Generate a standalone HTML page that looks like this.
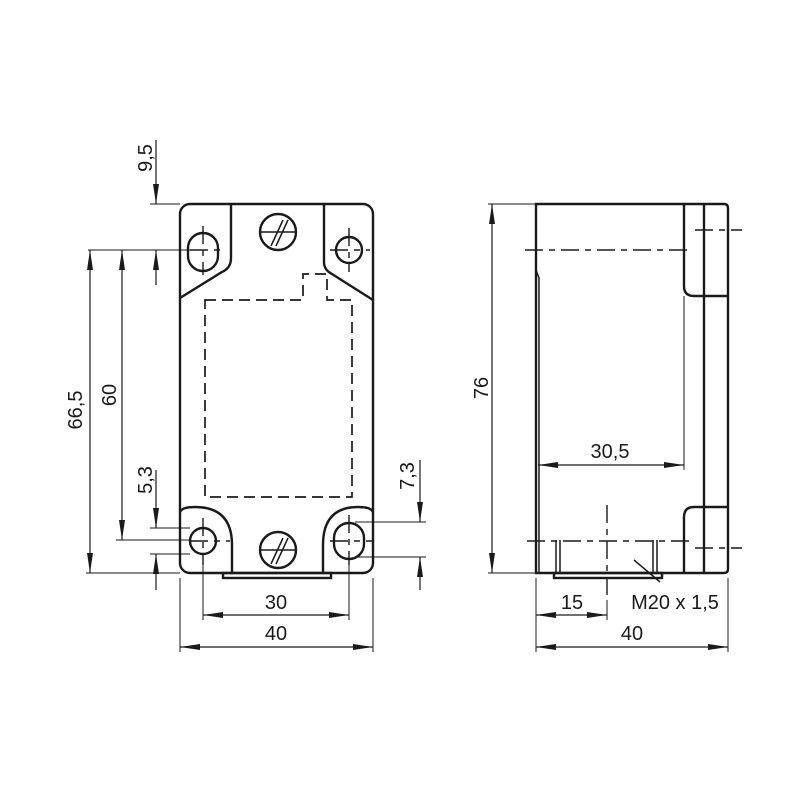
<!DOCTYPE html>
<html><head><meta charset="utf-8"><style>body{margin:0;background:#fff}</style></head><body>
<svg width="800" height="800" viewBox="0 0 800 800" xmlns="http://www.w3.org/2000/svg" font-family="Liberation Sans, DejaVu Sans, sans-serif" font-size="20" fill="none" stroke="#1a1a1a">
<defs>
<marker id="a" viewBox="0 0 20 6" refX="20" refY="3" markerWidth="20" markerHeight="6" markerUnits="userSpaceOnUse" orient="auto-start-reverse"><path d="M0,0 L20,3 L0,6z" fill="#1a1a1a" stroke="none"/></marker>
</defs>
<g stroke-width="2.4">
<rect x="180" y="204" width="193" height="369" rx="10"/>
<path d="M231,204 V258 Q231,268 222,272 L180,298"/>
<path d="M324,204 V262 Q324,270 332,274 L373,300"/>
<path d="M180,512 Q182,507 195,507 Q232,507 232,545 V573"/>
<path d="M373,512 Q371,507 358,507 Q323,507 323,545 V573"/>
<rect x="188" y="233" width="30" height="38" rx="15"/>
<circle cx="349" cy="250" r="13"/>
<circle cx="278" cy="232" r="18"/>
<circle cx="278" cy="550" r="18"/>
<circle cx="203" cy="541" r="13"/>
<rect x="334" y="523" width="30" height="36" rx="15"/>
<rect x="223" y="573" width="108" height="5"/>
<path d="M536,204 H724 Q728,204 728,208 V569 Q728,573 724,573 H536 Z"/>
<path d="M684,204 V286 Q684,296 694,296 H728"/>
<path d="M704,204 V573"/>
<path d="M728,507 H694 Q684,507 684,517 V573"/>
<rect x="554" y="573" width="108" height="5"/>
</g>
<g stroke-width="1.5">
<path d="M271,246 L283,220 M276,246 L288,220 M260,232 H296 M271,564 L283,538 M276,564 L288,538 M260,550 H296"/>
<path d="M556,540 V573 M560,540 V573 M653,540 V573 M657,540 V573"/>
<path d="M536,270 L539,278 V573"/>
<path d="M634,560 L660,582"/>
</g>
<g stroke-width="1.7" stroke-dasharray="11,6">
<path d="M205,300 H303 V274 H327 V300 H352 V497 H205 Z"/>
</g>
<g stroke-width="1.4" stroke-dasharray="18,6,6,6">
<path d="M190,250 H226 M203,226 V275 M330,250 H370 M349,228 V272"/>
<path d="M190,541 H230 M203,518 V565 M330,541 H372 M349,515 V565"/>
<path d="M525,250 H690 M695,230 H742 M527,541 H695 M695,548 H742 M607,505 V600"/>
</g>
<g stroke-width="1">
<path d="M150,204 H180 M88,250 H190 M116,540 H190 M150,528 H190 M150,554 H190 M86,573 H180"/>
<path d="M355,522 H426 M355,557 H426"/>
<path d="M203,565 V620 M349,565 V620 M180,578 V652 M373,578 V652"/>
<path d="M488,204 H536 M488,573 H536 M536,578 V652 M607,600 V620 M728,578 V652 M684,296 V470"/>
</g>
<g stroke-width="1.2" marker-end="url(#a)">
<path d="M156,140 V204"/><path d="M156,285 V250"/>
<path d="M156,470 V528"/><path d="M156,590 V554"/>
<path d="M420,460 V522"/><path d="M420,590 V557"/>
</g>
<g stroke-width="1.2" marker-start="url(#a)" marker-end="url(#a)">
<path d="M90,250 V573"/><path d="M122,250 V540"/>
<path d="M203,615 H349"/><path d="M180,647 H373"/>
<path d="M492,204 V573"/><path d="M538,465 H684"/>
<path d="M536,615 H607"/><path d="M536,647 H728"/>
</g>
<g fill="#1a1a1a" stroke="none">
<text transform="translate(152,158) rotate(-90)" text-anchor="middle">9,5</text>
<text transform="translate(82,410) rotate(-90)" text-anchor="middle">66,5</text>
<text transform="translate(116,395) rotate(-90)" text-anchor="middle">60</text>
<text transform="translate(152,480) rotate(-90)" text-anchor="middle">5,3</text>
<text transform="translate(414,476) rotate(-90)" text-anchor="middle">7,3</text>
<text transform="translate(488,388) rotate(-90)" text-anchor="middle">76</text>
<text x="276" y="609" text-anchor="middle">30</text>
<text x="276" y="640" text-anchor="middle">40</text>
<text x="610" y="458" text-anchor="middle">30,5</text>
<text x="572" y="609" text-anchor="middle">15</text>
<text x="675" y="609" text-anchor="middle">M20 x 1,5</text>
<text x="632" y="640" text-anchor="middle">40</text>
</g>
</svg>
</body></html>
